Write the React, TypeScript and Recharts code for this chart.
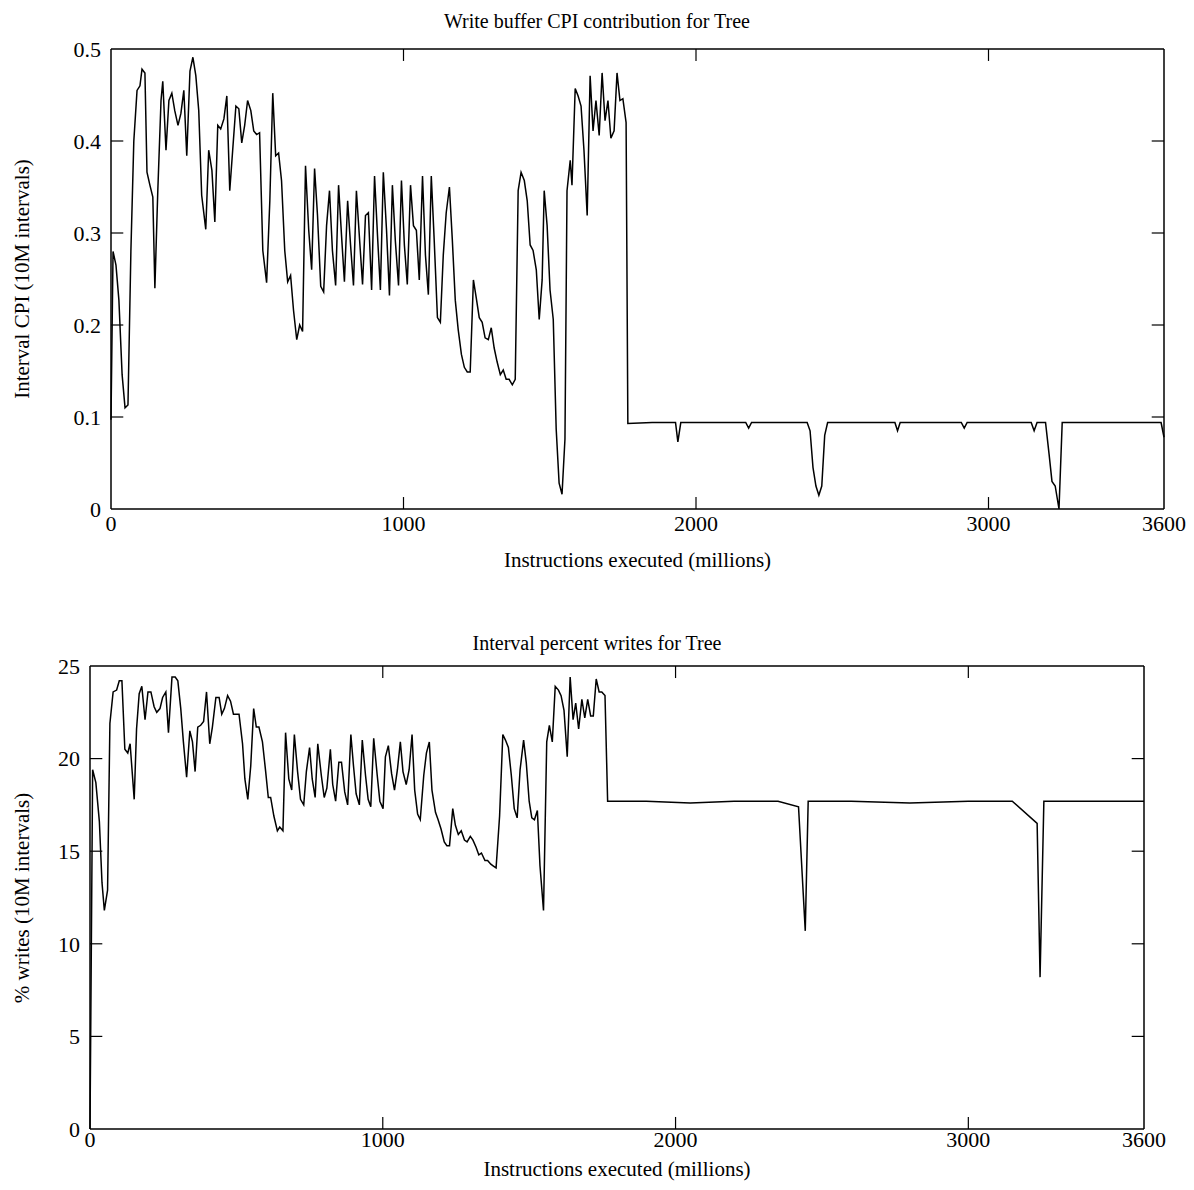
import React from "react";
import { LineChart, Line, XAxis, YAxis, ReferenceLine } from "recharts";

const cpiX = [0,7,17,27,38,48,58,68,78,89,99,106,116,123,133,143,150,160,171,177,188,198,208,218,229,239,249,259,270,280,290,300,310,324,334,345,355,365,375,386,396,406,416,427,437,447,457,467,478,488,498,508,519,532,543,553,563,573,583,594,604,614,624,635,645,655,665,676,686,696,706,717,727,737,747,757,768,778,788,798,809,819,829,839,850,860,870,880,891,901,911,921,931,942,952,962,972,983,993,1003,1013,1024,1034,1044,1054,1065,1075,1085,1095,1105,1116,1126,1136,1146,1157,1167,1177,1187,1198,1208,1218,1228,1239,1249,1259,1269,1279,1290,1300,1310,1320,1331,1341,1351,1361,1372,1382,1392,1402,1413,1423,1433,1443,1454,1464,1474,1481,1491,1501,1512,1522,1532,1542,1552,1559,1570,1576,1587,1597,1607,1617,1628,1638,1648,1658,1669,1679,1689,1699,1709,1720,1730,1740,1750,1761,1767,
1850,1930,1938,1948,2060,2170,2180,2190,2300,2380,2390,2400,2410,2420,2430,2440,2450,2560,2680,2689,2698,2800,2907,2917,2927,3050,3146,3156,3166,3195,3207,3217,3228,3241,3252,3400,3590,3600];
const cpiY = [0.097,0.28,0.265,0.227,0.146,0.11,0.113,0.28,0.40,0.455,0.46,0.478,0.474,0.366,0.352,0.339,0.24,0.346,0.444,0.465,0.39,0.444,0.452,0.433,0.417,0.43,0.455,0.384,0.476,0.491,0.471,0.433,0.341,0.304,0.39,0.368,0.312,0.417,0.413,0.424,0.449,0.346,0.39,0.438,0.435,0.398,0.417,0.444,0.433,0.411,0.407,0.409,0.281,0.246,0.335,0.452,0.384,0.387,0.357,0.281,0.247,0.254,0.216,0.184,0.2,0.193,0.373,0.303,0.26,0.37,0.319,0.242,0.236,0.308,0.346,0.281,0.243,0.352,0.298,0.247,0.335,0.287,0.243,0.346,0.292,0.244,0.319,0.322,0.238,0.362,0.298,0.238,0.366,0.303,0.232,0.352,0.292,0.243,0.357,0.287,0.244,0.352,0.308,0.303,0.249,0.362,0.276,0.233,0.362,0.292,0.208,0.203,0.276,0.322,0.35,0.292,0.227,0.195,0.168,0.154,0.149,0.149,0.249,0.229,0.208,0.203,0.186,0.184,0.197,0.175,0.16,0.146,0.151,0.141,0.141,0.135,0.141,0.346,0.366,0.357,0.335,0.287,0.281,0.26,0.206,0.249,0.346,0.308,0.238,0.206,0.087,0.028,0.016,0.076,0.346,0.379,0.352,0.457,0.449,0.438,0.39,0.319,0.471,0.411,0.444,0.406,0.474,0.422,0.444,0.403,0.411,0.474,0.444,0.446,0.42,0.093,
0.094,0.094,0.073,0.094,0.094,0.094,0.088,0.094,0.094,0.094,0.085,0.045,0.025,0.015,0.025,0.08,0.094,0.094,0.094,0.085,0.094,0.094,0.094,0.088,0.094,0.094,0.094,0.085,0.094,0.094,0.06,0.03,0.025,0.0,0.094,0.094,0.094,0.078];

const wrX = [0,9,20,32,41,49,60,68,79,91,100,109,119,129,137,151,159,168,177,188,198,208,219,228,239,248,259,268,280,291,300,310,319,330,341,350,359,368,378,388,398,409,418,430,441,450,459,470,480,490,500,509,521,529,539,549,559,568,577,589,600,609,617,628,640,648,659,668,679,689,698,709,719,730,739,750,759,769,778,790,800,809,821,829,839,850,859,870,880,891,900,909,920,930,941,950,959,969,981,990,1001,1009,1019,1030,1040,1050,1060,1069,1080,1090,1100,1109,1119,1128,1140,1149,1159,1168,1180,1189,1199,1210,1219,1228,1239,1248,1258,1268,1279,1288,1299,1308,1319,1328,1337,1349,1358,1369,1378,1387,1399,1410,1419,1429,1439,1449,1459,1469,1481,1490,1500,1509,1518,1528,1537,1549,1560,1569,1579,1589,1600,1609,1619,1630,1640,1650,1659,1669,1680,1690,1700,1710,1719,1729,1739,1748,1759,1768,
1900,2050,2200,2350,2420,2443,2453,2600,2800,3000,3150,3235,3245,3258,3400,3600];
const wrY = [0,19.4,18.7,16.6,13.3,11.8,12.9,21.9,23.6,23.7,24.2,24.2,20.5,20.3,20.8,17.8,21.6,23.5,23.9,22.1,23.6,23.6,22.8,22.5,22.7,23.3,23.6,21.4,24.4,24.4,24.2,22.7,20.9,19.0,21.5,20.9,19.3,21.7,21.8,22.0,23.6,20.8,21.7,23.3,23.3,22.4,22.7,23.4,23.1,22.4,22.4,22.4,20.8,18.9,17.8,19.6,22.7,21.7,21.7,20.9,19.3,17.9,17.9,16.9,16.1,16.3,16.1,21.4,18.9,18.3,21.3,19.3,17.8,17.5,19.3,20.6,18.9,17.9,20.8,19.1,17.9,18.4,20.5,18.6,17.7,19.8,19.8,18.2,17.5,21.3,19.6,18.1,17.5,21.0,19.1,17.8,17.4,21.1,19.1,17.7,17.3,20.1,20.7,19.2,18.3,19.4,20.9,19.3,18.6,19.4,21.3,18.3,17.0,16.7,19.1,20.3,20.9,18.3,17.1,16.7,16.2,15.5,15.3,15.3,17.3,16.4,15.9,16.1,15.6,15.5,15.8,15.6,15.2,14.8,14.9,14.5,14.5,14.3,14.2,14.1,16.9,21.3,21.0,20.6,19.1,17.3,16.8,19.4,21.0,19.8,17.7,16.8,16.7,17.2,14.2,11.8,20.9,21.8,20.9,23.9,23.7,23.4,22.6,20.1,24.4,22.1,23.0,21.6,23.2,22.2,23.2,22.3,22.3,24.3,23.6,23.6,23.4,17.7,
17.7,17.6,17.7,17.7,17.4,10.7,17.7,17.7,17.6,17.7,17.7,16.5,8.2,17.7,17.7,17.7];

const xTicks = [0, 1000, 2000, 3000, 3600];
const xInner = [1000, 2000, 3000];
const cpiTicks = [0, 0.1, 0.2, 0.3, 0.4, 0.5];
const wrTicks = [0, 5, 10, 15, 20, 25];

const cpiData = cpiX.map((x, i) => ({ x, y: cpiY[i] }));
const wrData = wrX.map((x, i) => ({ x, y: wrY[i] }));

const font = "'Liberation Serif', 'DejaVu Serif', serif";
const tickStyle = { fontSize: 22, fill: "#000", fontFamily: font };

function Panel({ data, top, height, margin, yTicks, yMax, title, yLabel, titleY, xLabelY, yLabelX, xTickMargin }: any) {
  const tx = 42;
  const ty = yMax * 0.026;
  const ax = 3600 - tx;
  const cy = margin.top + (height - margin.top - margin.bottom) / 2;
  return (
    <div style={{ position: "absolute", left: 0, top, width: 1194, height }}>
      <div style={{ position: "absolute", left: 0, width: 1194, top: titleY, textAlign: "center", fontFamily: font, fontSize: 20 }}>{title}</div>
      <div style={{ position: "absolute", left: 0, width: 1194, top: xLabelY, paddingLeft: margin.left - margin.right, boxSizing: "border-box", textAlign: "center", fontFamily: font, fontSize: 21 }}>Instructions executed (millions)</div>
      <div style={{ position: "absolute", left: yLabelX, top: cy, transform: "translate(-50%,-50%) rotate(-90deg)", whiteSpace: "nowrap", fontFamily: font, fontSize: 21 }}>{yLabel}</div>
      <LineChart width={1194} height={height} data={data} margin={margin}>
        <XAxis dataKey="x" type="number" domain={[0, 3600]} ticks={xTicks} tickSize={0} tickMargin={xTickMargin} tick={tickStyle} stroke="#000" strokeWidth={1.5} height={1} />
        <XAxis xAxisId="top" orientation="top" dataKey="x" type="number" domain={[0, 3600]} tick={false} tickLine={false} stroke="#000" strokeWidth={1.5} height={1} />
        <YAxis type="number" domain={[0, yMax]} ticks={yTicks} tickSize={0} tickMargin={10} tick={tickStyle} stroke="#000" strokeWidth={1.5} width={1} />
        <YAxis yAxisId="right" orientation="right" domain={[0, yMax]} tick={false} tickLine={false} stroke="#000" strokeWidth={1.5} width={1} />
        {xInner.map((v) => (
          <ReferenceLine key={"b" + v} segment={[{ x: v, y: 0 }, { x: v, y: ty }]} stroke="#000" strokeWidth={1.2} ifOverflow="visible" />
        ))}
        {xInner.map((v) => (
          <ReferenceLine key={"t" + v} segment={[{ x: v, y: yMax }, { x: v, y: yMax - ty }]} stroke="#000" strokeWidth={1.2} ifOverflow="visible" />
        ))}
        {yTicks.slice(1, -1).map((v: number) => (
          <ReferenceLine key={"l" + v} segment={[{ x: 0, y: v }, { x: tx, y: v }]} stroke="#000" strokeWidth={1.2} ifOverflow="visible" />
        ))}
        {yTicks.slice(1, -1).map((v: number) => (
          <ReferenceLine key={"r" + v} segment={[{ x: ax, y: v }, { x: 3600, y: v }]} stroke="#000" strokeWidth={1.2} ifOverflow="visible" />
        ))}
        <Line type="linear" dataKey="y" stroke="#000" strokeWidth={1.5} dot={false} isAnimationActive={false} />
      </LineChart>
    </div>
  );
}

export default function App() {
  return (
    <div style={{ position: "absolute", left: 0, top: 0, width: 1194, height: 1190, background: "#fff", fontFamily: font }}>
      <style>{`.recharts-text, .recharts-cartesian-axis-tick-value { font-family: 'Liberation Serif', serif !important; }`}</style>
      <Panel data={cpiData} top={0} height={580} margin={{ top: 48, right: 29, bottom: 70, left: 110 }}
        yTicks={cpiTicks} yMax={0.5} title="Write buffer CPI contribution for Tree" yLabel="Interval CPI (10M intervals)"
        titleY={10} xLabelY={548} yLabelX={22} xTickMargin={6} />
      <Panel data={wrData} top={600} height={590} margin={{ top: 65, right: 49, bottom: 60, left: 89 }}
        yTicks={wrTicks} yMax={25} title="Interval percent writes for Tree" yLabel="% writes (10M intervals)"
        titleY={32} xLabelY={557} yLabelX={22} xTickMargin={2} />
    </div>
  );
}
